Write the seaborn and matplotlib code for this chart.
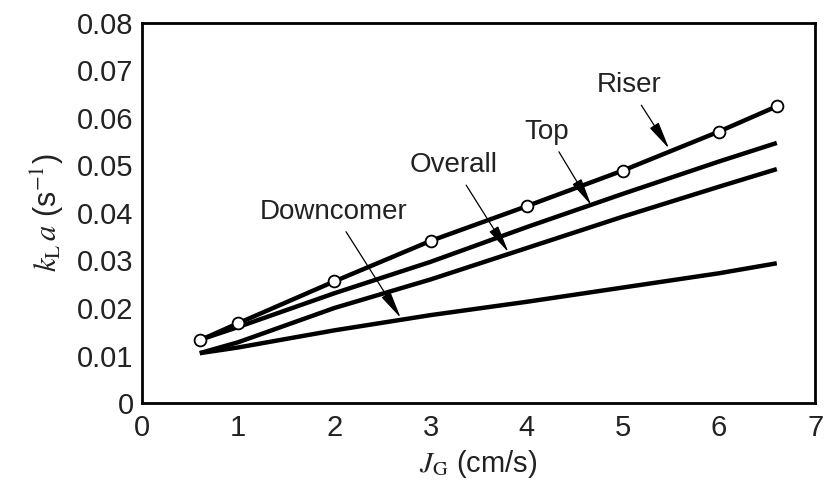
import matplotlib
matplotlib.use("Agg")
import matplotlib.pyplot as plt
import seaborn as sns
import pandas as pd

# Data
jg = [0.6, 1, 2, 3, 4, 5, 6, 6.6]
riser = [0.0132, 0.0168, 0.0256, 0.0341, 0.0414, 0.0489, 0.0571, 0.0624]
top = [0.0133, 0.0160, 0.0231, 0.0297, 0.0370, 0.0440, 0.0508, 0.0547]
overall = [0.0105, 0.0128, 0.0200, 0.0260, 0.0326, 0.0392, 0.0455, 0.0492]
downcomer = [0.0105, 0.0117, 0.0153, 0.0185, 0.0213, 0.0243, 0.0273, 0.0294]

x_ticks = [0, 1, 2, 3, 4, 5, 6, 7]
y_ticks = [0, 0.01, 0.02, 0.03, 0.04, 0.05, 0.06, 0.07, 0.08]
y_tick_labels = ["0", "0.01", "0.02", "0.03", "0.04", "0.05", "0.06", "0.07", "0.08"]

# annotation labels: (text, text position, arrow tip)
ann_labels = ["Riser", "Top", "Overall", "Downcomer"]
ann_text_xy = [(5.06, 0.0668), (4.21, 0.0570), (3.24, 0.0500), (1.99, 0.0402)]
ann_tip_xy = [(5.48, 0.0535), (4.67, 0.0416), (3.81, 0.0317), (2.69, 0.0179)]

sns.set_theme(style="white")
plt.rcParams["font.family"] = ["Liberation Sans", "DejaVu Sans"]
plt.rcParams["mathtext.fontset"] = "stix"

fig = plt.figure(figsize=(8.26, 4.91), dpi=100)
ax = fig.add_axes([0.172, 0.179, 0.815, 0.775])

df = pd.DataFrame({"jg": jg, "riser": riser, "top": top,
                   "overall": overall, "downcomer": downcomer})

for col in ["downcomer", "overall", "top"]:
    sns.lineplot(data=df, x="jg", y=col, ax=ax, color="black", lw=3.2,
                 solid_capstyle="butt")
sns.lineplot(data=df, x="jg", y="riser", ax=ax, color="black", lw=3.2,
             marker="o", markersize=8.5, markerfacecolor="white",
             markeredgecolor="black", markeredgewidth=1.3)

for lab, txy, tip in zip(ann_labels, ann_text_xy, ann_tip_xy):
    ax.annotate(lab, xy=tip, xytext=txy, ha="center", va="center",
                fontsize=20, color="#222222",
                arrowprops=dict(arrowstyle="-|>,head_length=0.85,head_width=0.16",
                                color="black", lw=0.9, shrinkA=3, shrinkB=0))

ax.set_xlim(0, 7)
ax.set_ylim(0, 0.08)
ax.set_xticks(x_ticks)
ax.set_xticklabels([str(t) for t in x_ticks])
ax.set_yticks(y_ticks)
ax.set_yticklabels(y_tick_labels)
ax.tick_params(axis="both", direction="in", length=13, width=1.0,
               labelsize=21, colors="black", labelcolor="#222222")
ax.tick_params(axis="x", pad=8)
ax.tick_params(axis="y", pad=6)
for s in ax.spines.values():
    s.set_visible(True)
    s.set_color("black")
    s.set_linewidth(2.0)

ax.set_xlabel(r"$J_{\mathrm{G}}$ (cm/s)", fontsize=21, color="#222222", labelpad=4)
ax.set_ylabel(r"$k_{\mathrm{L}}\,a$ (s$^{-1}$)", fontsize=22, color="#222222", labelpad=8)

fig.savefig("out.png", dpi=100)
